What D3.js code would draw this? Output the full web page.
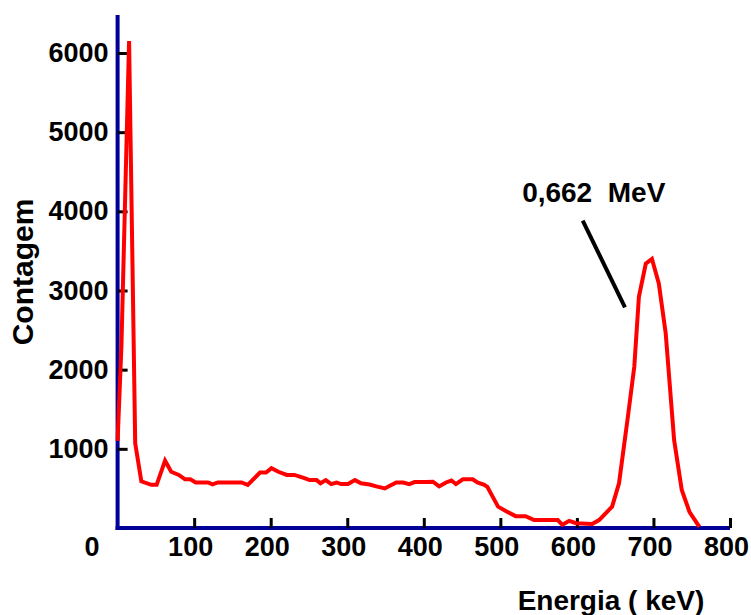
<!DOCTYPE html>
<html>
<head>
  <meta charset="utf-8">
  <script src="https://d3js.org/d3.v7.min.js"></script>
  <style>
    body { margin: 0; background: #fff; }
    text {
      font-family: "Liberation Sans", Arial, sans-serif;
      font-weight: bold;
      fill: #000;
    }
    .line { fill: none; }
  </style>
</head>
<body>
  <div id="chart"></div>
  <script>
    // spectrum (keV, counts)
    var energies = [0, 5, 15, 23, 31, 44, 51, 62, 70, 80, 88, 95, 102, 118, 124, 131, 162, 170,
      186, 194, 201, 210, 221, 231, 244, 251, 260, 265, 272, 279, 286, 292, 301, 310, 318, 329,
      338, 349, 355, 364, 373, 381, 388, 403, 412, 420, 429, 436, 442, 451, 464, 470, 479, 483,
      497, 507, 520, 533, 544, 575, 581, 590, 599, 620, 629, 646, 655, 666, 675, 681, 690, 698,
      707, 716, 727, 737, 747, 760];
    var counts = [1100, 2300, 6150, 1070, 590, 545, 545, 850, 710, 670, 615, 615, 575, 575, 550, 575, 575, 545,
      700, 700, 755, 710, 670, 670, 630, 605, 605, 565, 605, 555, 575, 555, 555, 605, 565, 550,
      525, 500, 530, 575, 575, 555, 580, 580, 585, 525, 575, 600, 555, 615, 615, 575, 545, 520,
      270, 215, 150, 150, 100, 100, 40, 90, 60, 50, 100, 270, 565, 1360, 2040, 2920, 3340, 3400,
      3090, 2460, 1110, 480, 205, 15];

    var xTicks = [100, 200, 300, 400, 500, 600, 700, 800];
    var yTicks = [1000, 2000, 3000, 4000, 5000, 6000];

    // peak annotation: label position and pointer line (data units)
    var peakLabel = { text: "0,662\u00a0\u00a0MeV", x: 622, y: 4122 };
    var pointer = [[607.6, 3882], [662.8, 2788]];

    var width = 751, height = 615;

    var x = d3.scaleLinear().domain([0, 800]).range([117.6, 730]);
    var y = d3.scaleLinear().domain([0, 6480]).range([528, 15]);

    var svg = d3.select("#chart").append("svg")
      .attr("width", width)
      .attr("height", height);

    // x axis
    var xAxis = svg.append("g")
      .attr("transform", "translate(0," + y(0) + ")")
      .call(d3.axisBottom(x).tickValues(xTicks).tickFormat(d3.format("d"))
        .tickSizeInner(-10).tickSizeOuter(0).tickPadding(9));

    // y axis
    var yAxis = svg.append("g")
      .attr("transform", "translate(" + x(0) + ",0)")
      .call(d3.axisLeft(y).tickValues(yTicks).tickFormat(d3.format("d"))
        .tickSizeInner(-10).tickSizeOuter(0).tickPadding(9));

    [xAxis, yAxis].forEach(function (ax) {
      ax.select(".domain").attr("stroke", "#000099").attr("stroke-width", 4);
      ax.selectAll(".tick text")
        .attr("font-family", null)
        .style("font-size", "27px");
    });
    yAxis.select(".domain").attr("d", "M0," + (y(0) + 2) + "V" + y.range()[1]);
    xAxis.select(".domain").attr("d", "M" + (x(0) - 2) + ",0H" + x.range()[1]);

    // inward tick marks
    yAxis.selectAll(".tick line")
      .attr("x1", 0).attr("x2", 10)
      .attr("stroke", "#000").attr("stroke-width", 3);
    xAxis.selectAll(".tick line")
      .attr("y1", 0).attr("y2", -10)
      .attr("stroke", "#000").attr("stroke-width", 3);
    xAxis.selectAll(".tick text").attr("dx", -4);

    // shared origin label
    svg.append("text")
      .attr("x", 92)
      .attr("y", y(0) + 9)
      .attr("dy", "0.71em")
      .attr("text-anchor", "middle")
      .style("font-size", "27px")
      .text("0");

    var line = d3.line()
      .x(function (d, i) { return x(energies[i]); })
      .y(function (d) { return y(d); });

    svg.append("path")
      .datum(counts)
      .attr("class", "line")
      .attr("d", line)
      .attr("stroke", "#ff0000")
      .attr("stroke-width", 4);

    // annotation
    svg.append("line")
      .attr("x1", x(pointer[0][0])).attr("y1", y(pointer[0][1]))
      .attr("x2", x(pointer[1][0])).attr("y2", y(pointer[1][1]))
      .attr("stroke", "#000")
      .attr("stroke-width", 4);

    svg.append("text")
      .attr("x", x(peakLabel.x))
      .attr("y", y(peakLabel.y))
      .attr("text-anchor", "middle")
      .style("font-size", "28px")
      .text(peakLabel.text);

    // axis titles
    svg.append("text")
      .attr("x", 611)
      .attr("y", 610)
      .attr("text-anchor", "middle")
      .style("font-size", "28px")
      .text("Energia ( keV)");

    svg.append("text")
      .attr("transform", "translate(33,272) rotate(-90)")
      .attr("text-anchor", "middle")
      .style("font-size", "30px")
      .text("Contagem");
  </script>
</body>
</html>
